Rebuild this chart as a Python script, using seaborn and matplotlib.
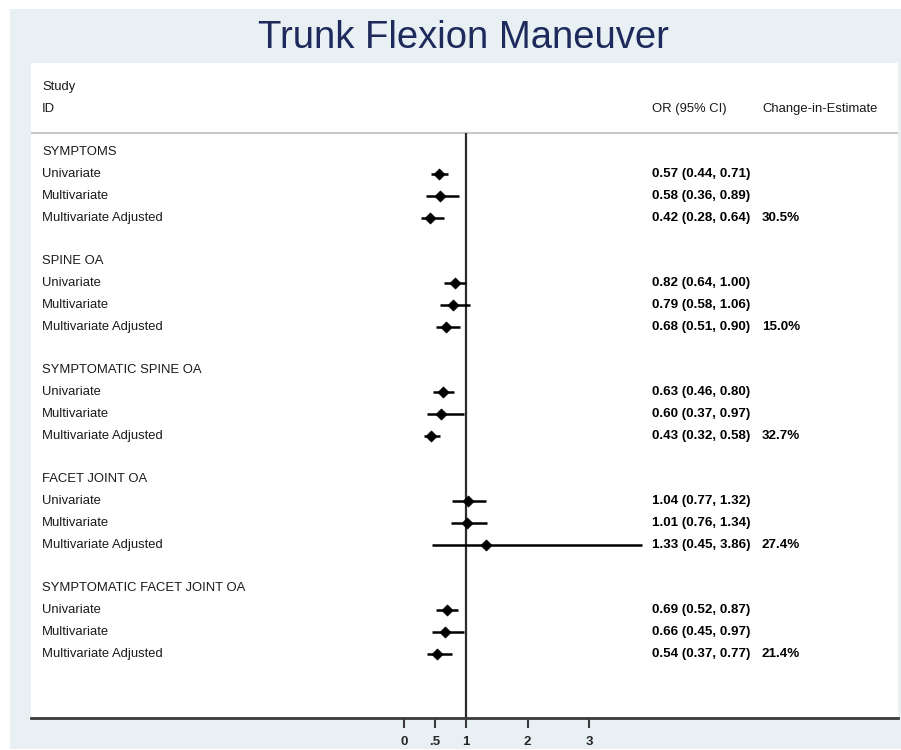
import numpy as np
import pandas as pd
import matplotlib
matplotlib.use("Agg")
import matplotlib.pyplot as plt
import matplotlib.transforms as mtransforms
from matplotlib.patches import Rectangle
import seaborn as sns

# ---------------- data ----------------
groups = ["SYMPTOMS", "SPINE OA", "SYMPTOMATIC SPINE OA", "FACET JOINT OA",
          "SYMPTOMATIC FACET JOINT OA"]
models = ["Univariate", "Multivariate", "Multivariate Adjusted"]
or_est = [0.57, 0.58, 0.42,
          0.82, 0.79, 0.68,
          0.63, 0.60, 0.43,
          1.04, 1.01, 1.33,
          0.69, 0.66, 0.54]
ci_low = [0.44, 0.36, 0.28,
          0.64, 0.58, 0.51,
          0.46, 0.37, 0.32,
          0.77, 0.76, 0.45,
          0.52, 0.45, 0.37]
ci_high = [0.71, 0.89, 0.64,
           1.00, 1.06, 0.90,
           0.80, 0.97, 0.58,
           1.32, 1.34, 3.86,
           0.87, 0.97, 0.77]
change_in_estimate = ["30.5%", "15.0%", "32.7%", "27.4%", "21.4%"]
xticks = [0, 0.5, 1, 2, 3]
xticklabels = ["0", ".5", "1", "2", "3"]

# ---------------- build table ----------------
records = []
for g, grp in enumerate(groups):
    for m, mod in enumerate(models):
        k = g * 3 + m
        records.append(dict(group=grp, model=mod, row=4 + 5 * g + m,
                            est=or_est[k], lo=ci_low[k], hi=ci_high[k],
                            ce=change_in_estimate[g] if m == 2 else ""))
df = pd.DataFrame(records)

# ---------------- style ----------------
sns.set_style("white")
plt.rcParams["font.family"] = ["Liberation Sans", "DejaVu Sans"]

W, H = 901, 750
fig = plt.figure(figsize=(W / 100, H / 100), dpi=100, facecolor="white")

# light blue panel
fig.add_artist(Rectangle((10 / W, 1 - 749 / H), 891 / W, 740 / H,
                         transform=fig.transFigure, facecolor="#E8F0F4",
                         edgecolor="none", zorder=-10))

fig.text(463 / W, 1 - 38 / H, "Trunk Flexion Maneuver", ha="center",
         va="center", fontsize=27.5, color="#1D2A5B")

ax = fig.add_axes([31 / W, 1 - 718 / H, 867 / W, 655 / H])
ax.set_facecolor("white")

# CIs and points
ax.hlines(df["row"], df["lo"], df["hi"], color="black", lw=1.8, zorder=3)
sns.scatterplot(data=df, x="est", y="row", marker="D", s=32, color="black",
                edgecolor="black", linewidth=0.5, ax=ax, zorder=4, legend=False)

ax.set_xlim(-6.045, 8.0)
ax.set_ylim(28.94, -1.10)

# reference line and header separator
ax.vlines(1, 2.1, 28.94, color="#2b2b2b", lw=1.6, zorder=2)
ax.axhline(2.1, color="#c9c9c9", lw=1.5, zorder=1)

ax.set_xticks(xticks, xticklabels)
ax.set_yticks([])
ax.set_xlabel("")
ax.set_ylabel("")
for s in ["top", "left", "right"]:
    ax.spines[s].set_visible(False)
ax.spines["bottom"].set_color("#3a3a3a")
ax.spines["bottom"].set_linewidth(2)
ax.tick_params(axis="x", direction="out", length=7, width=1.5, color="#3a3a3a",
               labelsize=9.5, pad=6, bottom=True)
for t in ax.get_xticklabels():
    t.set_fontweight("bold")

trans = mtransforms.blended_transform_factory(ax.transAxes, ax.transData)
xl, xo, xc = 0.0127, 0.716, 0.843
fs = 9.4
tc = "#1a1a1a"
ax.text(xl, 0, "Study", transform=trans, va="center", fontsize=fs, color=tc)
ax.text(xl, 1, "ID", transform=trans, va="center", fontsize=fs, color=tc)
ax.text(xo, 1, "OR (95% CI)", transform=trans, va="center", fontsize=fs, color=tc)
ax.text(xc, 1, "Change-in-Estimate", transform=trans, va="center", fontsize=fs, color=tc)

for g, grp in enumerate(groups):
    ax.text(xl, 3 + 5 * g, grp, transform=trans, va="center", fontsize=fs, color=tc)
for _, r in df.iterrows():
    ax.text(xl, r["row"], r["model"], transform=trans, va="center", fontsize=fs, color=tc)
    ax.text(xo, r["row"], f"{r['est']:.2f} ({r['lo']:.2f}, {r['hi']:.2f})",
            transform=trans, va="center", fontsize=9.6, color="black", fontweight="bold")
    if r["ce"]:
        ax.text(xc, r["row"], r["ce"], transform=trans, va="center", fontsize=9.6,
                color="black", fontweight="bold")

fig.savefig("out.png", dpi=100, facecolor="white")
